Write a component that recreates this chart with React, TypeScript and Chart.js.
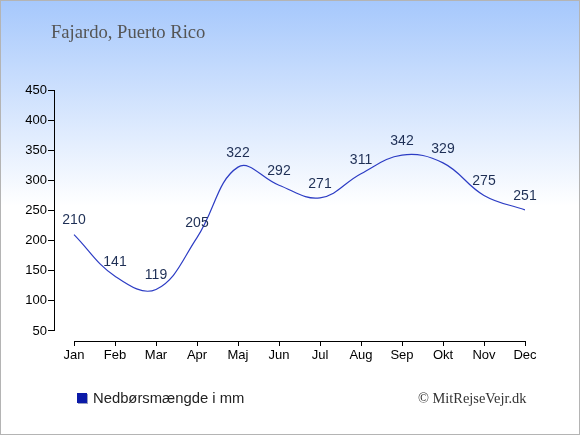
import React, { useEffect, useRef } from "react";
import { Chart, registerables } from "chart.js";

Chart.register(...registerables);

const months = ["Jan", "Feb", "Mar", "Apr", "Maj", "Jun", "Jul", "Aug", "Sep", "Okt", "Nov", "Dec"];
const rainfall = [210, 141, 119, 205, 322, 292, 271, 311, 342, 329, 275, 251];
const yTicks = [50, 100, 150, 200, 250, 300, 350, 400, 450];
const title = "Fajardo, Puerto Rico";
const seriesName = "Nedbørsmængde i mm";
const credit = "© MitRejseVejr.dk";

const LINE_COLOR = "#2c3cc4";
const LABEL_COLOR = "#1e2f55";

const axesPlugin = {
  id: "customAxes",
  afterDatasetsDraw(chart: any) {
    const { ctx, scales } = chart;
    const x = scales.x;
    const y = scales.y;
    ctx.save();
    ctx.strokeStyle = "#000";
    ctx.lineWidth = 1;
    const yx = Math.round(x.left) + 0.5;
    ctx.beginPath();
    ctx.moveTo(yx, y.getPixelForValue(yTicks[yTicks.length - 1]));
    ctx.lineTo(yx, y.getPixelForValue(yTicks[0]));
    ctx.stroke();
    const xy = Math.round(y.bottom) + 0.5;
    ctx.beginPath();
    ctx.moveTo(x.getPixelForValue(0), xy);
    ctx.lineTo(x.getPixelForValue(months.length - 1), xy);
    ctx.stroke();
    ctx.restore();
  },
};

const labelsPlugin = {
  id: "valueLabels",
  afterDatasetsDraw(chart: any) {
    const { ctx } = chart;
    const meta = chart.getDatasetMeta(0);
    ctx.save();
    ctx.font = "14px 'Liberation Sans', Arial, sans-serif";
    ctx.fillStyle = LABEL_COLOR;
    ctx.textAlign = "center";
    ctx.textBaseline = "middle";
    meta.data.forEach((pt: any, i: number) => {
      ctx.fillText(String(rainfall[i]), pt.x, pt.y - 14);
    });
    ctx.restore();
  },
};

export default function App() {
  const canvasRef = useRef<HTMLCanvasElement | null>(null);

  useEffect(() => {
    document.body.style.margin = "0";
    const canvas = canvasRef.current;
    if (!canvas) return;
    const chart = new Chart(canvas, {
      type: "line",
      data: {
        datasets: [
          {
            label: seriesName,
            data: rainfall.map((v, i) => ({ x: i, y: v })),
            borderColor: LINE_COLOR,
            backgroundColor: LINE_COLOR,
            borderWidth: 1.2,
            pointRadius: 0,
            tension: 0.4,
            fill: false,
          },
        ],
      },
      options: {
        animation: false,
        responsive: false,
        maintainAspectRatio: false,
        layout: { padding: { left: 0, top: 90, right: 55, bottom: 0 } },
        plugins: {
          legend: { display: false },
          tooltip: { enabled: false },
          title: { display: false },
        },
        scales: {
          x: {
            type: "linear",
            min: -0.488,
            max: months.length - 1,
            afterBuildTicks: (scale: any) => {
              scale.ticks = months.map((_, i) => ({ value: i }));
            },
            afterFit: (scale: any) => {
              scale.height = 94;
            },
            ticks: {
              autoSkip: false,
              maxRotation: 0,
              padding: 2,
              color: "#000",
              font: { family: "'Liberation Sans', Arial, sans-serif", size: 13 },
              callback: (v: any) => months[v] ?? "",
            },
            grid: {
              display: true,
              drawOnChartArea: false,
              drawTicks: true,
              tickLength: 5,
              color: "#000",
            },
            border: { display: false },
          },
          y: {
            type: "linear",
            min: 33.4,
            max: 450,
            afterBuildTicks: (scale: any) => {
              scale.ticks = yTicks.map((v) => ({ value: v }));
            },
            afterFit: (scale: any) => {
              scale.width = 54;
            },
            ticks: {
              padding: 1,
              color: "#000",
              font: { family: "'Liberation Sans', Arial, sans-serif", size: 13 },
            },
            grid: {
              display: true,
              drawOnChartArea: false,
              drawTicks: true,
              tickLength: 6,
              color: "#000",
            },
            border: { display: false },
          },
        },
      },
      plugins: [axesPlugin, labelsPlugin],
    });
    return () => chart.destroy();
  }, []);

  return (
    <div
      style={{
        position: "relative",
        width: 580,
        height: 435,
        boxSizing: "border-box",
        border: "1px solid #b4b4b4",
        background: "linear-gradient(to bottom, #a6c8fc 0px, #ffffff 205px, #ffffff 435px)",
        overflow: "hidden",
      }}
    >
      <canvas
        ref={canvasRef}
        width={580}
        height={435}
        style={{ position: "absolute", left: -1, top: -1, width: 580, height: 435 }}
      />
      <div
        style={{
          position: "absolute",
          left: 50,
          top: 20,
          fontFamily: "'Liberation Serif', 'Times New Roman', serif",
          fontSize: 18.6,
          color: "#555",
          whiteSpace: "nowrap",
        }}
      >
        {title}
      </div>
      <div
        style={{
          position: "absolute",
          left: 76,
          top: 389,
          display: "flex",
          alignItems: "center",
          fontFamily: "'Liberation Sans', Arial, sans-serif",
          fontSize: 14.8,
          color: "#222",
          whiteSpace: "nowrap",
        }}
      >
        <span
          style={{
            display: "inline-block",
            width: 10,
            height: 10,
            background: "#0b1aa8",
            boxShadow: "1px 1px 0 #9aa0c0",
            marginRight: 6,
          }}
        />
        {seriesName}
      </div>
      <div
        style={{
          position: "absolute",
          left: 417,
          top: 389,
          fontFamily: "'Liberation Serif', 'Times New Roman', serif",
          fontSize: 14.4,
          color: "#333",
          whiteSpace: "nowrap",
        }}
      >
        {credit}
      </div>
    </div>
  );
}
